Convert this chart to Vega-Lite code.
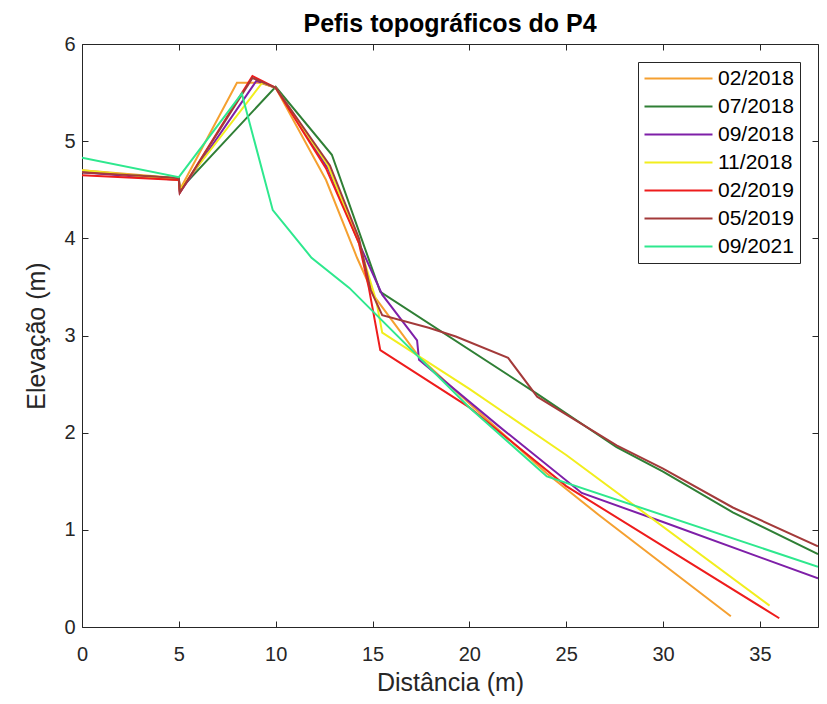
{
  "$schema": "https://vega.github.io/schema/vega-lite/v6.json",
  "width": 736,
  "height": 583,
  "autosize": {"type": "none"},
  "padding": {"left": 82, "top": 44, "right": 9, "bottom": 77},
  "background": "white",
  "title": {"text": "Pefis topográficos do P4", "font": "Liberation Sans", "fontSize": 25, "fontWeight": "bold", "color": "#000000", "anchor": "middle", "offset": -3},
  "config": {
    "view": {"stroke": null},
    "axis": {"grid": false, "domainColor": "#262626", "tickColor": "#262626", "labelColor": "#262626", "labelFont": "Liberation Sans", "labelFontSize": 20, "titleFont": "Liberation Sans", "titleFontSize": 25, "titleFontWeight": "normal", "titleColor": "#262626", "tickSize": -6, "domainWidth": 1, "tickWidth": 1, "labelFlush": false},
    "legend": {"labelFont": "Liberation Sans", "labelFontSize": 21, "labelColor": "#000000"}
  },
  "data": {"values": [
    {"serie": "02/2018", "x": 0, "y": 4.70}, {"serie": "02/2018", "x": 5, "y": 4.62}, {"serie": "02/2018", "x": 5.05, "y": 4.50}, {"serie": "02/2018", "x": 8.0, "y": 5.60}, {"serie": "02/2018", "x": 9.2, "y": 5.60}, {"serie": "02/2018", "x": 10, "y": 5.55}, {"serie": "02/2018", "x": 12.6, "y": 4.60}, {"serie": "02/2018", "x": 14.2, "y": 3.80}, {"serie": "02/2018", "x": 15.1, "y": 3.40}, {"serie": "02/2018", "x": 17.4, "y": 2.78}, {"serie": "02/2018", "x": 20, "y": 2.30}, {"serie": "02/2018", "x": 24, "y": 1.58}, {"serie": "02/2018", "x": 26.7, "y": 1.15}, {"serie": "02/2018", "x": 33.5, "y": 0.11},
    {"serie": "07/2018", "x": 0, "y": 4.68}, {"serie": "07/2018", "x": 5, "y": 4.62}, {"serie": "07/2018", "x": 5.05, "y": 4.50}, {"serie": "07/2018", "x": 10, "y": 5.56}, {"serie": "07/2018", "x": 12.9, "y": 4.86}, {"serie": "07/2018", "x": 15.4, "y": 3.45}, {"serie": "07/2018", "x": 23.5, "y": 2.40}, {"serie": "07/2018", "x": 27.6, "y": 1.85}, {"serie": "07/2018", "x": 30, "y": 1.60}, {"serie": "07/2018", "x": 33.6, "y": 1.18}, {"serie": "07/2018", "x": 38, "y": 0.75},
    {"serie": "09/2018", "x": 0, "y": 4.68}, {"serie": "09/2018", "x": 5, "y": 4.60}, {"serie": "09/2018", "x": 5.05, "y": 4.47}, {"serie": "09/2018", "x": 9.0, "y": 5.62}, {"serie": "09/2018", "x": 10, "y": 5.55}, {"serie": "09/2018", "x": 12.7, "y": 4.72}, {"serie": "09/2018", "x": 14.3, "y": 3.95}, {"serie": "09/2018", "x": 15.5, "y": 3.42}, {"serie": "09/2018", "x": 17.3, "y": 2.95}, {"serie": "09/2018", "x": 17.4, "y": 2.75}, {"serie": "09/2018", "x": 21.5, "y": 2.07}, {"serie": "09/2018", "x": 25.8, "y": 1.38}, {"serie": "09/2018", "x": 30, "y": 1.08}, {"serie": "09/2018", "x": 38, "y": 0.50},
    {"serie": "11/2018", "x": 0, "y": 4.70}, {"serie": "11/2018", "x": 5, "y": 4.60}, {"serie": "11/2018", "x": 5.05, "y": 4.50}, {"serie": "11/2018", "x": 9.3, "y": 5.60}, {"serie": "11/2018", "x": 10, "y": 5.55}, {"serie": "11/2018", "x": 12.7, "y": 4.75}, {"serie": "11/2018", "x": 14.3, "y": 3.95}, {"serie": "11/2018", "x": 15.2, "y": 3.35}, {"serie": "11/2018", "x": 15.5, "y": 3.03}, {"serie": "11/2018", "x": 20, "y": 2.45}, {"serie": "11/2018", "x": 25, "y": 1.77}, {"serie": "11/2018", "x": 35.5, "y": 0.22},
    {"serie": "02/2019", "x": 0, "y": 4.65}, {"serie": "02/2019", "x": 5, "y": 4.60}, {"serie": "02/2019", "x": 5.05, "y": 4.47}, {"serie": "02/2019", "x": 8.8, "y": 5.67}, {"serie": "02/2019", "x": 10, "y": 5.55}, {"serie": "02/2019", "x": 12.6, "y": 4.72}, {"serie": "02/2019", "x": 14.3, "y": 3.95}, {"serie": "02/2019", "x": 14.8, "y": 3.50}, {"serie": "02/2019", "x": 15.4, "y": 2.85}, {"serie": "02/2019", "x": 20, "y": 2.26}, {"serie": "02/2019", "x": 25, "y": 1.45}, {"serie": "02/2019", "x": 36, "y": 0.09},
    {"serie": "05/2019", "x": 0, "y": 4.68}, {"serie": "05/2019", "x": 5, "y": 4.62}, {"serie": "05/2019", "x": 5.05, "y": 4.47}, {"serie": "05/2019", "x": 8.8, "y": 5.65}, {"serie": "05/2019", "x": 10, "y": 5.55}, {"serie": "05/2019", "x": 12.8, "y": 4.75}, {"serie": "05/2019", "x": 14.3, "y": 4.00}, {"serie": "05/2019", "x": 14.9, "y": 3.47}, {"serie": "05/2019", "x": 15.5, "y": 3.21}, {"serie": "05/2019", "x": 17.9, "y": 3.08}, {"serie": "05/2019", "x": 19.3, "y": 2.99}, {"serie": "05/2019", "x": 22.0, "y": 2.77}, {"serie": "05/2019", "x": 23.5, "y": 2.37}, {"serie": "05/2019", "x": 27.6, "y": 1.87}, {"serie": "05/2019", "x": 30, "y": 1.63}, {"serie": "05/2019", "x": 33.6, "y": 1.23}, {"serie": "05/2019", "x": 38, "y": 0.83},
    {"serie": "09/2021", "x": 0, "y": 4.83}, {"serie": "09/2021", "x": 5, "y": 4.63}, {"serie": "09/2021", "x": 8.25, "y": 5.49}, {"serie": "09/2021", "x": 9.85, "y": 4.29}, {"serie": "09/2021", "x": 11.85, "y": 3.80}, {"serie": "09/2021", "x": 13.8, "y": 3.49}, {"serie": "09/2021", "x": 20, "y": 2.26}, {"serie": "09/2021", "x": 24, "y": 1.55}, {"serie": "09/2021", "x": 38, "y": 0.62}
  ]},
  "layer": [
    {
      "mark": {"type": "line", "strokeWidth": 2, "clip": true},
      "encoding": {
        "x": {"field": "x", "type": "quantitative", "scale": {"domain": [0, 38], "nice": false, "zero": false}, "axis": {"title": "Distância (m)", "values": [0, 5, 10, 15, 20, 25, 30, 35], "labelPadding": 23, "titlePadding": 6}},
        "y": {"field": "y", "type": "quantitative", "scale": {"domain": [0, 6], "nice": false}, "axis": {"title": "Elevação (m)", "values": [0, 1, 2, 3, 4, 5, 6], "labelPadding": 13, "titlePadding": 14}},
        "color": {"field": "serie", "type": "nominal", "scale": {"domain": ["02/2018", "07/2018", "09/2018", "11/2018", "02/2019", "05/2019", "09/2021"], "range": ["#f5a030", "#2f7f35", "#7e1fa8", "#f2ee1e", "#ee1c1c", "#a33a3a", "#2ee88e"]}, "legend": {"title": null, "orient": "top-right", "offset": 18, "fillColor": "white", "strokeColor": "#262626", "padding": 6, "rowPadding": 6, "symbolType": "M-34,0H34", "symbolSize": 4, "symbolStrokeWidth": 2, "symbolOffset": 24, "labelOffset": 29}}
      }
    },
    {
      "mark": {"type": "line", "strokeOpacity": 0},
      "encoding": {
        "x": {"field": "x", "type": "quantitative", "scale": {"domain": [0, 38], "nice": false, "zero": false}, "axis": {"orient": "top", "title": null, "labels": false, "values": [0, 5, 10, 15, 20, 25, 30, 35]}},
        "y": {"field": "y", "type": "quantitative", "scale": {"domain": [0, 6], "nice": false}, "axis": {"orient": "right", "title": null, "labels": false, "values": [0, 1, 2, 3, 4, 5, 6]}},
        "detail": {"field": "serie", "type": "nominal"}
      }
    }
  ],
  "resolve": {"axis": {"x": "independent", "y": "independent"}}
}
